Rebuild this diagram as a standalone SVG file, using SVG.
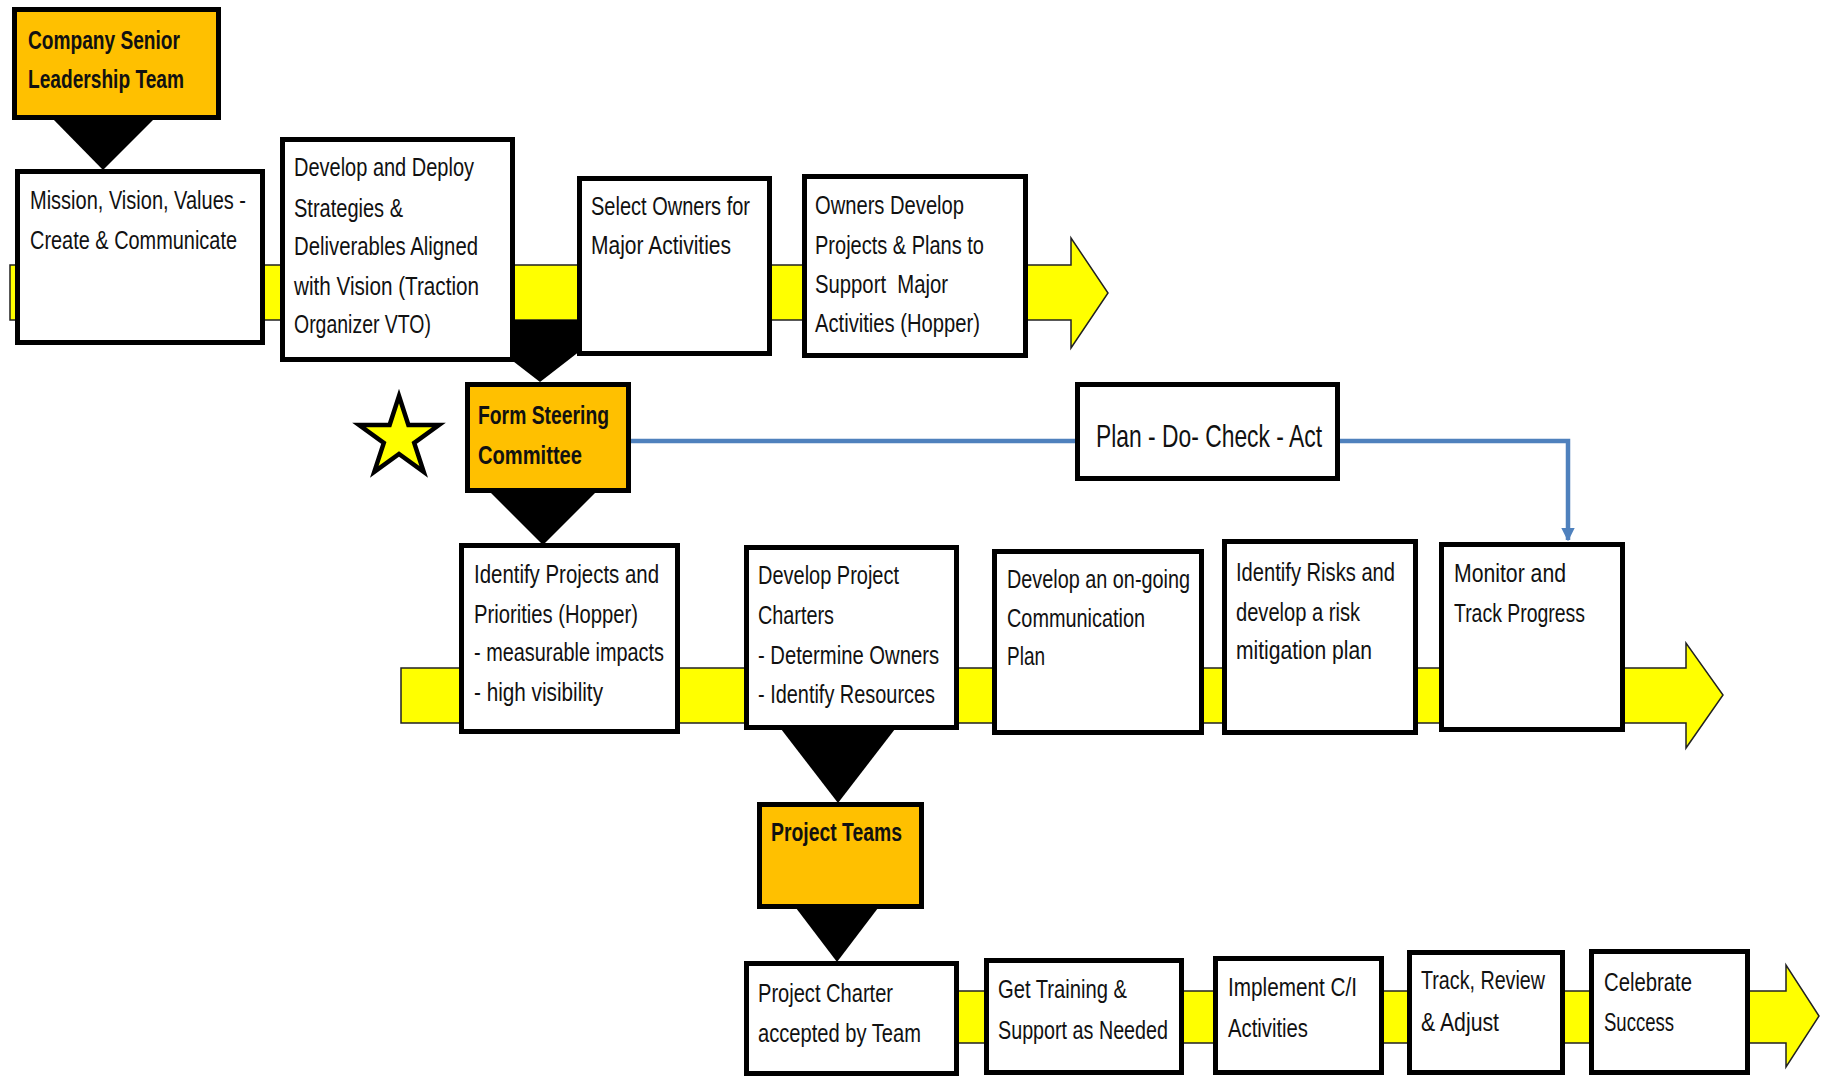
<svg xmlns="http://www.w3.org/2000/svg" width="1823" height="1076" viewBox="0 0 1823 1076">
<defs>
<style>
.box{fill:#ffffff;stroke:#000;stroke-width:5}
.obox{fill:#ffc000;stroke:#000;stroke-width:5}
.bar{fill:#ffff00;stroke:#222;stroke-width:1.5}
.tri{fill:#000}
.blue{fill:none;stroke:#4f81bd;stroke-width:4.5}
.t{font-family:"Liberation Sans",Arial,sans-serif;font-size:25px;fill:#111}
.b{font-family:"Liberation Sans",Arial,sans-serif;font-size:25px;font-weight:bold;fill:#111}
.p{font-family:"Liberation Sans",Arial,sans-serif;font-size:32px;fill:#111}
</style>
<marker id="ah" viewBox="0 0 10 10" refX="9" refY="5" markerWidth="3" markerHeight="3" orient="auto">
<path d="M0,0 L10,5 L0,10 z" fill="#4f81bd"/>
</marker>
</defs>
<rect width="1823" height="1076" fill="#fff"/>
<g id="connectors">
<polygon class="bar" points="10,265 1071,265 1071,238 1108,293 1071,348 1071,320 10,320"/>
<polygon class="bar" points="401,668 1686,668 1686,643 1723,695 1686,748 1686,723 401,723"/>
<polygon class="bar" points="800,991 1786,991 1786,965 1819,1016 1786,1067 1786,1043 800,1043"/>
<polygon class="tri" points="52,118 155,118 103,170"/>
<polygon class="tri" points="460,320 620,320 540,382"/>
<polygon class="tri" points="490,492 596,492 543,545"/>
<polygon class="tri" points="781,729 895,729 838,803"/>
<polygon class="tri" points="796,908 878,908 837,962"/>
<polyline class="blue" points="631,441 1075,441"/>
<polyline class="blue" points="1340,441 1568,441 1568,540" marker-end="url(#ah)"/>
</g>
<g id="star">
<polygon points="399,396 408.4,425 438.9,425 414.2,442.9 423.7,471.9 399,454 374.3,471.9 383.8,442.9 359.1,425 389.6,425" fill="#ffff00" stroke="#000" stroke-width="4.5"/>
</g>
<g id="n-company">
<rect class="obox" x="14.5" y="9.5" width="204" height="108"/>
<text class="b" x="28" y="49" textLength="152" lengthAdjust="spacingAndGlyphs">Company Senior</text>
<text class="b" x="28" y="88" textLength="156" lengthAdjust="spacingAndGlyphs">Leadership Team</text>
</g>
<g id="n-mission">
<rect class="box" x="17.5" y="171.5" width="245" height="171"/>
<text class="t" x="30" y="209" textLength="216" lengthAdjust="spacingAndGlyphs">Mission, Vision, Values -</text>
<text class="t" x="30" y="249" textLength="207" lengthAdjust="spacingAndGlyphs">Create &amp; Communicate</text>
</g>
<g id="n-deploy">
<rect class="box" x="282.5" y="139.5" width="230" height="220"/>
<text class="t" x="294" y="176" textLength="180" lengthAdjust="spacingAndGlyphs">Develop and Deploy</text>
<text class="t" x="294" y="217" textLength="109" lengthAdjust="spacingAndGlyphs">Strategies &amp;</text>
<text class="t" x="294" y="255" textLength="184" lengthAdjust="spacingAndGlyphs">Deliverables Aligned</text>
<text class="t" x="294" y="295" textLength="185" lengthAdjust="spacingAndGlyphs">with Vision (Traction</text>
<text class="t" x="294" y="333" textLength="137" lengthAdjust="spacingAndGlyphs">Organizer VTO)</text>
</g>
<g id="n-select">
<rect class="box" x="579.5" y="178.5" width="190" height="175"/>
<text class="t" x="591" y="215" textLength="159" lengthAdjust="spacingAndGlyphs">Select Owners for</text>
<text class="t" x="591" y="254" textLength="140" lengthAdjust="spacingAndGlyphs">Major Activities</text>
</g>
<g id="n-owners">
<rect class="box" x="804.5" y="176.5" width="221" height="179"/>
<text class="t" x="815" y="214" textLength="149" lengthAdjust="spacingAndGlyphs">Owners Develop</text>
<text class="t" x="815" y="254" textLength="169" lengthAdjust="spacingAndGlyphs">Projects &amp; Plans to</text>
<text class="t" x="815" y="293" textLength="133" lengthAdjust="spacingAndGlyphs" xml:space="preserve">Support  Major</text>
<text class="t" x="815" y="332" textLength="165" lengthAdjust="spacingAndGlyphs">Activities (Hopper)</text>
</g>
<g id="n-steering">
<rect class="obox" x="467.5" y="384.5" width="161" height="106"/>
<text class="b" x="478" y="424" textLength="131" lengthAdjust="spacingAndGlyphs">Form Steering</text>
<text class="b" x="478" y="464" textLength="104" lengthAdjust="spacingAndGlyphs">Committee</text>
</g>
<g id="n-pdca">
<rect class="box" x="1077.5" y="384.5" width="260" height="94"/>
<text class="p" x="1096" y="447" textLength="226" lengthAdjust="spacingAndGlyphs">Plan - Do- Check - Act</text>
</g>
<g id="n-identify">
<rect class="box" x="461.5" y="545.5" width="216" height="186"/>
<text class="t" x="474" y="583" textLength="185" lengthAdjust="spacingAndGlyphs">Identify Projects and</text>
<text class="t" x="474" y="623" textLength="164" lengthAdjust="spacingAndGlyphs">Priorities (Hopper)</text>
<text class="t" x="474" y="661" textLength="190" lengthAdjust="spacingAndGlyphs">- measurable impacts</text>
<text class="t" x="474" y="701" textLength="129" lengthAdjust="spacingAndGlyphs">- high visibility</text>
</g>
<g id="n-charters">
<rect class="box" x="746.5" y="547.5" width="210" height="180"/>
<text class="t" x="758" y="584" textLength="141" lengthAdjust="spacingAndGlyphs">Develop Project</text>
<text class="t" x="758" y="624" textLength="76" lengthAdjust="spacingAndGlyphs">Charters</text>
<text class="t" x="758" y="664" textLength="181" lengthAdjust="spacingAndGlyphs">- Determine Owners</text>
<text class="t" x="758" y="703" textLength="177" lengthAdjust="spacingAndGlyphs">- Identify Resources</text>
</g>
<g id="n-comm">
<rect class="box" x="994.5" y="551.5" width="207" height="181"/>
<text class="t" x="1007" y="588" textLength="183" lengthAdjust="spacingAndGlyphs">Develop an on-going</text>
<text class="t" x="1007" y="627" textLength="138" lengthAdjust="spacingAndGlyphs">Communication</text>
<text class="t" x="1007" y="665" textLength="38" lengthAdjust="spacingAndGlyphs">Plan</text>
</g>
<g id="n-risks">
<rect class="box" x="1224.5" y="541.5" width="191" height="191"/>
<text class="t" x="1236" y="581" textLength="159" lengthAdjust="spacingAndGlyphs">Identify Risks and</text>
<text class="t" x="1236" y="621" textLength="124" lengthAdjust="spacingAndGlyphs">develop a risk</text>
<text class="t" x="1236" y="659" textLength="136" lengthAdjust="spacingAndGlyphs">mitigation plan</text>
</g>
<g id="n-monitor">
<rect class="box" x="1441.5" y="544.5" width="181" height="185"/>
<text class="t" x="1454" y="582" textLength="112" lengthAdjust="spacingAndGlyphs">Monitor and</text>
<text class="t" x="1454" y="622" textLength="131" lengthAdjust="spacingAndGlyphs">Track Progress</text>
</g>
<g id="n-teams">
<rect class="obox" x="759.5" y="804.5" width="162" height="102"/>
<text class="b" x="771" y="841" textLength="131" lengthAdjust="spacingAndGlyphs">Project Teams</text>
</g>
<g id="n-accepted">
<rect class="box" x="746.5" y="963.5" width="210" height="110"/>
<text class="t" x="758" y="1002" textLength="135" lengthAdjust="spacingAndGlyphs">Project Charter</text>
<text class="t" x="758" y="1042" textLength="163" lengthAdjust="spacingAndGlyphs">accepted by Team</text>
</g>
<g id="n-training">
<rect class="box" x="986.5" y="960.5" width="195" height="112"/>
<text class="t" x="998" y="998" textLength="129" lengthAdjust="spacingAndGlyphs">Get Training &amp;</text>
<text class="t" x="998" y="1039" textLength="170" lengthAdjust="spacingAndGlyphs">Support as Needed</text>
</g>
<g id="n-implement">
<rect class="box" x="1215.5" y="958.5" width="166" height="114"/>
<text class="t" x="1228" y="996" textLength="129" lengthAdjust="spacingAndGlyphs">Implement C/I</text>
<text class="t" x="1228" y="1037" textLength="80" lengthAdjust="spacingAndGlyphs">Activities</text>
</g>
<g id="n-track">
<rect class="box" x="1409.5" y="952.5" width="153" height="120"/>
<text class="t" x="1421" y="989" textLength="124" lengthAdjust="spacingAndGlyphs">Track, Review</text>
<text class="t" x="1421" y="1031" textLength="78" lengthAdjust="spacingAndGlyphs">&amp; Adjust</text>
</g>
<g id="n-celebrate">
<rect class="box" x="1591.5" y="951.5" width="156" height="121"/>
<text class="t" x="1604" y="991" textLength="88" lengthAdjust="spacingAndGlyphs">Celebrate</text>
<text class="t" x="1604" y="1031" textLength="70" lengthAdjust="spacingAndGlyphs">Success</text>
</g>
</svg>
